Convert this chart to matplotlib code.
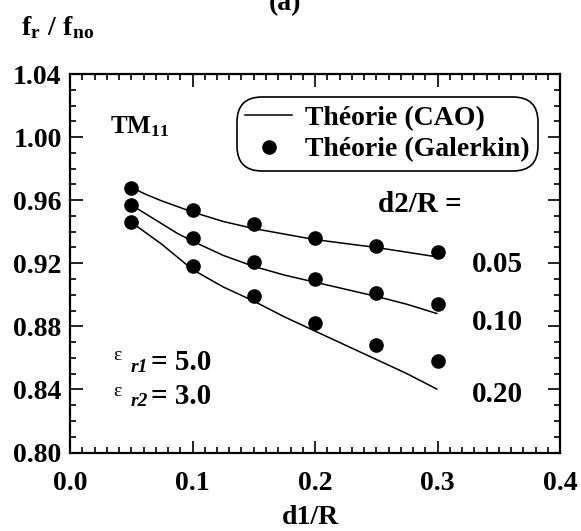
import matplotlib
matplotlib.use("Agg")
import matplotlib.pyplot as plt
from matplotlib.ticker import MultipleLocator, FormatStrFormatter

# Resonant frequency ratio vs. d1/R for three d2/R values (TM11 mode)
d1_points = [0.05, 0.10, 0.15, 0.20, 0.25, 0.30]
galerkin_005 = [0.968, 0.954, 0.945, 0.936, 0.931, 0.927]
galerkin_010 = [0.957, 0.936, 0.921, 0.910, 0.901, 0.894]
galerkin_020 = [0.946, 0.918, 0.899, 0.882, 0.868, 0.858]

d1_curve = [0.05, 0.0625, 0.075, 0.0875, 0.10, 0.125, 0.15, 0.175,
            0.20, 0.225, 0.25, 0.275, 0.30]
cao_005 = [0.968, 0.9635, 0.9595, 0.956, 0.9525, 0.9465, 0.942, 0.9385,
           0.935, 0.9325, 0.930, 0.927, 0.924]
cao_010 = [0.957, 0.951, 0.945, 0.939, 0.934, 0.925, 0.918, 0.9125,
           0.908, 0.9035, 0.899, 0.894, 0.888]
cao_020 = [0.946, 0.939, 0.932, 0.924, 0.916, 0.905, 0.896, 0.886,
           0.877, 0.868, 0.859, 0.850, 0.840]

d2_labels = ["0.05", "0.10", "0.20"]
xticks = [0.0, 0.1, 0.2, 0.3, 0.4]
yticks = [0.80, 0.84, 0.88, 0.92, 0.96, 1.00, 1.04]

W, H = 581, 531
plt.rcParams["font.family"] = ["Liberation Serif", "DejaVu Serif"]
plt.rcParams["font.weight"] = "bold"
plt.rcParams["mathtext.fontset"] = "custom"
plt.rcParams["mathtext.rm"] = "Liberation Serif:bold"
plt.rcParams["mathtext.it"] = "Liberation Serif:bold"
plt.rcParams["mathtext.bf"] = "Liberation Serif:bold"

fig = plt.figure(figsize=(W / 100, H / 100), dpi=100)
ax = fig.add_axes([70 / W, 1 - 452.5 / H, 490 / W, 378.5 / H])


def px(x, y):
    return x / W, 1 - y / H


for yc in (cao_005, cao_010, cao_020):
    ax.plot(d1_curve, yc, color="black", lw=1.1, solid_capstyle="butt",
            solid_joinstyle="round")
for yg in (galerkin_005, galerkin_010, galerkin_020):
    ax.plot(d1_points, yg, "o", color="black", ms=9.5, ls="none")

ax.set_xlim(0.0, 0.4)
ax.set_ylim(0.80, 1.04)
ax.set_xticks(xticks)
ax.set_yticks(yticks)
ax.xaxis.set_minor_locator(MultipleLocator(0.01))
ax.yaxis.set_minor_locator(MultipleLocator(0.01))
ax.xaxis.set_major_formatter(FormatStrFormatter("%.1f"))
ax.yaxis.set_major_formatter(FormatStrFormatter("%.2f"))
ax.tick_params(which="both", direction="in", top=True, right=True,
               width=1.2, labelsize=20)
ax.tick_params(which="major", length=9)
ax.tick_params(which="minor", length=4.5)
ax.tick_params(axis="x", pad=13)
ax.tick_params(axis="y", pad=6)
for lab in ax.get_xticklabels() + ax.get_yticklabels():
    lab.set_fontweight("bold")
for sp in ax.spines.values():
    sp.set_linewidth(1.6)

# Legend with rounded frame
ax.plot([], [], color="black", lw=1.1, label="Théorie (CAO)")
ax.plot([], [], "o", color="black", ms=9.5, label="Théorie (Galerkin)")
handles, labels = ax.get_legend_handles_labels()
leg = ax.legend(handles[-2:], labels[-2:], loc="upper right",
                bbox_to_anchor=(0.955, 0.939), borderaxespad=0,
                frameon=True, fancybox=True,
                handlelength=1.7, handletextpad=0.45, labelspacing=0.22,
                borderpad=0.3, prop={"weight": "bold", "size": 20})
frame = leg.get_frame()
frame.set_edgecolor("black")
frame.set_linewidth(1.2)
frame.set_alpha(1)
frame.set_boxstyle("round,pad=0,rounding_size=0.9")

# Annotations
fig.text(*px(285, 10), "(a)", ha="center", va="baseline", fontsize=20)
fig.text(*px(21, 35), r"$\mathrm{f_r\ /\ f_{no}}$", ha="left", va="baseline",
         fontsize=20)
fig.text(*px(110, 127), r"$\mathrm{TM_{11}}$", ha="left", va="center",
         fontsize=18)
fig.text(*px(378, 205), "d2/R =", ha="left", va="center", fontsize=21)
for lab, yy in zip(d2_labels, [265, 323, 395]):
    fig.text(*px(472, yy), lab, ha="left", va="center", fontsize=21)

for row, (sub, val) in enumerate([("r1", "5.0"), ("r2", "3.0")]):
    y0 = 362 + row * 35
    fig.text(*px(113, y0 - 6), "ε", ha="left", va="center", fontsize=14,
             fontweight="normal")
    fig.text(*px(131, y0 + 5), sub, ha="left", va="center", fontsize=14,
             style="italic")
    fig.text(*px(151, y0), "= " + val, ha="left", va="center", fontsize=21)

fig.text(*px(310, 518), "d1/R", ha="center", va="center", fontsize=20)

fig.savefig("out.png", dpi=100)
